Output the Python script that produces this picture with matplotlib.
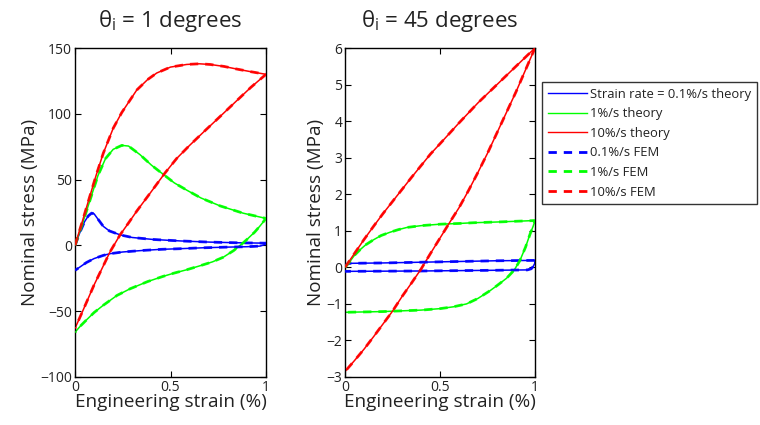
import matplotlib
matplotlib.use("Agg")
import matplotlib.pyplot as plt
from matplotlib.lines import Line2D

plt.rcParams['font.family'] = ['Open Sans', 'DejaVu Sans']
plt.rcParams['mathtext.fontset'] = 'custom'
plt.rcParams['mathtext.rm'] = 'Open Sans'
plt.rcParams['mathtext.it'] = 'Open Sans:italic'
plt.rcParams['mathtext.bf'] = 'Open Sans:bold'
plt.rcParams['axes.unicode_minus'] = True

# ---------------- data: theta_i = 1 degrees ----------------
l_red_load_s = [0, 0.04, 0.079, 0.11, 0.148, 0.2, 0.245, 0.323, 0.38, 0.428, 0.5, 0.585, 0.65, 0.707, 0.78, 0.847, 0.92, 1.0]
l_red_load_y = [0, 19, 38, 53, 70, 89, 101, 118, 126, 131, 135.5, 137.5, 138, 137.5, 136, 134, 132, 130]
l_red_unl_s = [1.0, 0.92, 0.847, 0.76, 0.672, 0.6, 0.532, 0.471, 0.4, 0.323, 0.28, 0.236, 0.183, 0.14, 0.1, 0.079, 0.04, 0]
l_red_unl_y = [130, 120, 110, 98, 86, 76, 66, 55, 41, 26, 17, 8, -5, -18, -30, -37, -50, -63]

l_grn_load_s = [0, 0.04, 0.08, 0.12, 0.16, 0.2, 0.245, 0.28, 0.34, 0.4, 0.462, 0.52, 0.585, 0.66, 0.76, 0.88, 1.0]
l_grn_load_y = [0, 17, 35, 53, 66, 73, 76, 75.5, 69, 61, 54, 47.5, 42, 36, 30, 24.5, 20.5]
l_grn_unl_s = [1.0, 0.97, 0.94, 0.9, 0.881, 0.83, 0.776, 0.72, 0.654, 0.585, 0.52, 0.462, 0.38, 0.288, 0.22, 0.148, 0.1, 0.061, 0.03, 0]
l_grn_unl_y = [20.5, 15, 10, 4.5, 2, -4, -9, -12.5, -15.5, -18.5, -21, -23.5, -27.5, -33, -38, -45.5, -51, -56.5, -61, -66]

l_blu_load_s = [0, 0.026, 0.05, 0.07, 0.087, 0.1, 0.12, 0.148, 0.18, 0.236, 0.3, 0.41, 0.55, 0.707, 0.85, 1.0]
l_blu_load_y = [0, 10, 18, 22.5, 24.5, 24, 20, 14.5, 11, 8, 6, 4.5, 3.4, 2.5, 2, 1.7]
l_blu_unl_s = [1.0, 0.99, 0.97, 0.9, 0.8, 0.672, 0.55, 0.45, 0.358, 0.25, 0.183, 0.148, 0.1, 0.06, 0.026, 0]
l_blu_unl_y = [1.7, 0.5, -0.5, -1, -1.3, -1.8, -2.5, -3, -3.8, -5, -6.3, -7.6, -10, -13, -16.4, -19]

# ---------------- data: theta_i = 45 degrees ----------------
r_red_load_s = [0, 0.05, 0.1, 0.15, 0.2, 0.25, 0.3, 0.35, 0.4, 0.45, 0.5, 0.6, 0.7, 0.8, 0.9, 1.0]
r_red_load_y = [0, 0.38, 0.76, 1.12, 1.47, 1.8, 2.13, 2.46, 2.78, 3.1, 3.38, 3.95, 4.5, 5.0, 5.5, 6.0]
r_red_unl_s = [1.0, 0.95, 0.9, 0.85, 0.8, 0.75, 0.7, 0.65, 0.6, 0.55, 0.5, 0.45, 0.4, 0.35, 0.3, 0.25, 0.2, 0.15, 0.1, 0.05, 0]
r_red_unl_y = [6, 5.4, 4.8, 4.24, 3.68, 3.12, 2.6, 2.1, 1.63, 1.22, 0.8, 0.38, -0.05, -0.43, -0.8, -1.2, -1.55, -1.9, -2.24, -2.55, -2.85]

r_grn_load_s = [0, 0.026, 0.05, 0.079, 0.11, 0.149, 0.19, 0.237, 0.28, 0.325, 0.4, 0.5, 0.6, 0.675, 0.8, 0.9, 1.0]
r_grn_load_y = [0, 0.16, 0.33, 0.48, 0.62, 0.75, 0.87, 0.96, 1.03, 1.09, 1.14, 1.18, 1.2, 1.22, 1.24, 1.26, 1.28]
r_grn_unl_s = [1.0, 0.99, 0.974, 0.95, 0.92, 0.89, 0.85, 0.8, 0.763, 0.7, 0.64, 0.57, 0.5, 0.4, 0.3, 0.2, 0.1, 0]
r_grn_unl_y = [1.28, 1.12, 0.91, 0.55, 0.18, -0.08, -0.3, -0.5, -0.64, -0.85, -1.0, -1.08, -1.13, -1.17, -1.19, -1.21, -1.22, -1.23]

r_blu_load_s = [0, 0.005, 0.015, 0.03, 0.2, 0.4, 0.6, 0.8, 1.0]
r_blu_load_y = [0, 0.06, 0.1, 0.11, 0.12, 0.14, 0.16, 0.18, 0.19]
r_blu_unl_s = [1.0, 0.998, 0.99, 0.98, 0.96, 0.8, 0.6, 0.4, 0.2, 0]
r_blu_unl_y = [0.19, 0.1, 0.02, -0.04, -0.07, -0.08, -0.09, -0.1, -0.105, -0.11]

titles = [r'$\mathrm{\theta_i}$ = 1 degrees', r'$\mathrm{\theta_i}$ = 45 degrees']
legend_labels = ['Strain rate = 0.1%/s theory', '1%/s theory', '10%/s theory',
                 '0.1%/s FEM', '1%/s FEM', '10%/s FEM']
left_yticks = [-100, -50, 0, 50, 100, 150]
right_yticks = [-3, -2, -1, 0, 1, 2, 3, 4, 5, 6]
xticks = [0, 0.5, 1]
xticklabels = ['0', '0.5', '1']

BLUE, GREEN, RED = '#0000ff', '#00ff00', '#ff0000'
TXT = '#222222'

fig = plt.figure(figsize=(7.6, 4.25), dpi=100)
axL = fig.add_axes([75/760, 1-377/425, 191/760, 329/425])
axR = fig.add_axes([345/760, 1-377/425, 190/760, 329/425])


def draw(ax, curves):
    for (s1, y1, s2, y2, c) in curves:
        xs = s1 + s2
        ys = y1 + y2
        ax.plot(xs, ys, color=c, lw=1.1, zorder=2)
        ax.plot(xs, ys, color=c, lw=2.0, ls=(0, (3, 2.5)), alpha=0.9, zorder=3)


draw(axL, [(l_blu_load_s, l_blu_load_y, l_blu_unl_s, l_blu_unl_y, BLUE),
           (l_grn_load_s, l_grn_load_y, l_grn_unl_s, l_grn_unl_y, GREEN),
           (l_red_load_s, l_red_load_y, l_red_unl_s, l_red_unl_y, RED)])
draw(axR, [(r_blu_load_s, r_blu_load_y, r_blu_unl_s, r_blu_unl_y, BLUE),
           (r_grn_load_s, r_grn_load_y, r_grn_unl_s, r_grn_unl_y, GREEN),
           (r_red_load_s, r_red_load_y, r_red_unl_s, r_red_unl_y, RED)])

for ax, yt, ttl in [(axL, left_yticks, titles[0]), (axR, right_yticks, titles[1])]:
    ax.set_xlim(0, 1)
    ax.set_ylim(yt[0], yt[-1])
    ax.set_xticks(xticks)
    ax.set_xticklabels(xticklabels)
    ax.set_yticks(yt)
    ax.tick_params(direction='in', length=4, width=0.8, top=True, right=True,
                   labelsize=10, colors='black', labelcolor=TXT, pad=2)
    for sp in ax.spines.values():
        sp.set_linewidth(1.0)
        sp.set_color('black')
    ax.set_xlabel('Engineering strain (%)', fontsize=13.6, color=TXT, labelpad=-1)
    ax.set_ylabel('Nominal stress (MPa)', fontsize=13.6, color=TXT, labelpad=1)
    ax.set_title(ttl, fontsize=16, color=TXT, pad=15)

handles = [Line2D([], [], color=BLUE, lw=1.0),
           Line2D([], [], color=GREEN, lw=1.0),
           Line2D([], [], color=RED, lw=1.0),
           Line2D([], [], color=BLUE, lw=2.0, ls=(0, (3, 2.5))),
           Line2D([], [], color=GREEN, lw=2.0, ls=(0, (3, 2.5))),
           Line2D([], [], color=RED, lw=2.0, ls=(0, (3, 2.5)))]
leg = fig.legend(handles, legend_labels, loc='upper left',
                 bbox_to_anchor=(542/760, 1-82/425), borderaxespad=0,
                 fontsize=9.4, frameon=True, fancybox=False, handlelength=3.0,
                 handletextpad=0.25, labelspacing=0.5, borderpad=0.45)
leg.get_frame().set_edgecolor('black')
leg.get_frame().set_linewidth(1.0)
for t in leg.get_texts():
    t.set_color(TXT)

fig.savefig('out.png', dpi=100)
